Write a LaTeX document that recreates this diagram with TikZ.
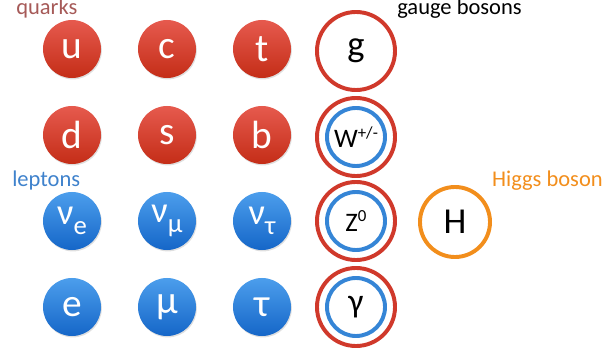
\documentclass[tikz,border=0pt]{standalone}
\usepackage{fontspec}
\setmainfont{Carlito}
\usepackage{tikz}
\usetikzlibrary{shadows}
\usepackage{xcolor}
\definecolor{qtop}{HTML}{E65A4E}
\definecolor{qbot}{HTML}{C42D17}
\definecolor{ltop}{HTML}{4C9EEC}
\definecolor{lbot}{HTML}{1566C8}
\definecolor{ringred}{HTML}{D0392B}
\definecolor{ringblue}{HTML}{3585D6}
\definecolor{higgsorange}{HTML}{F28E1C}
\definecolor{quarklabel}{HTML}{A65A58}
\definecolor{leptonlabel}{HTML}{3F82CC}
\newcommand{\lowsub}[1]{\raisebox{-0.55ex}{\fontsize{19}{19}\selectfont #1}}
\newcommand{\highsup}[1]{\raisebox{0.75ex}{\fontsize{12}{12}\selectfont #1}}

\begin{document}
\begin{tikzpicture}[x=0.025cm,y=-0.025cm,
  quark/.style={circle,minimum size=1.45cm,inner sep=0pt,top color=qtop,bottom color=qbot,
    text=white,font=\fontsize{28}{28}\selectfont,
    drop shadow={opacity=0.25,shadow xshift=0.6pt,shadow yshift=-1pt}},
  lepton/.style={quark,top color=ltop,bottom color=lbot},
  outerring/.style={circle,draw=ringred,line width=2.8pt,minimum size=1.95cm,inner sep=0pt},
  innerring/.style={circle,draw=ringblue,line width=2.8pt,minimum size=1.45cm,inner sep=0pt,
    font=\fontsize{19}{19}\selectfont},
  grouplabel/.style={anchor=base west,inner sep=0pt,font=\fontsize{16}{16}\selectfont}]
  \useasboundingbox (0,0) rectangle (605,354);
  % Quarks
  \node[grouplabel,text=quarklabel] (quarks) at (16,15) {quarks};
  \node[quark] (u) at (72,49) {u};
  \node[quark] (c) at (167,49) {c};
  \node[quark] (t) at (262,49) {t};
  \node[quark] (d) at (72,135) {d};
  \node[quark] (s) at (167,135) {s};
  \node[quark] (b) at (262,135) {b};
  % Leptonen
  \node[grouplabel,text=leptonlabel] (leptons) at (12,187) {leptons};
  \node[lepton,font=\fontsize{26}{26}\selectfont] (nue) at (72,221) {ν\lowsub{e}};
  \node[lepton,font=\fontsize{26}{26}\selectfont] (numu) at (167,221) {ν\lowsub{μ}};
  \node[lepton,font=\fontsize{26}{26}\selectfont] (nutau) at (262,221) {ν\lowsub{τ}};
  \node[lepton] (e) at (72,307) {e};
  \node[lepton] (mu) at (167,307) {μ};
  \node[lepton] (tau) at (262,307) {τ};
  % Eichbosonen
  \node[grouplabel] (gauge) at (397,15) {gauge bosons};
  \node[outerring,font=\fontsize{26}{26}\selectfont] (g) at (356,51) {g};
  \node[outerring] (Wring) at (356,137) {};
  \node[innerring] (W) at (356,137) {W\highsup{+/-}};
  \node[outerring] (Zring) at (356,221) {};
  \node[innerring] (Z) at (356,221) {Z\highsup{0}};
  \node[outerring] (gammaring) at (356,307) {};
  \node[innerring,font=\fontsize{24}{24}\selectfont] (gamma) at (356,307) {γ};
  % Higgs
  \node[grouplabel,anchor=base east,text=higgsorange] (higgs) at (603,187) {Higgs boson};
  \node[circle,draw=higgsorange,line width=2.8pt,minimum size=1.75cm,inner sep=0pt,
    font=\fontsize{26}{26}\selectfont] (H) at (455,222) {H};
\end{tikzpicture}
\end{document}
